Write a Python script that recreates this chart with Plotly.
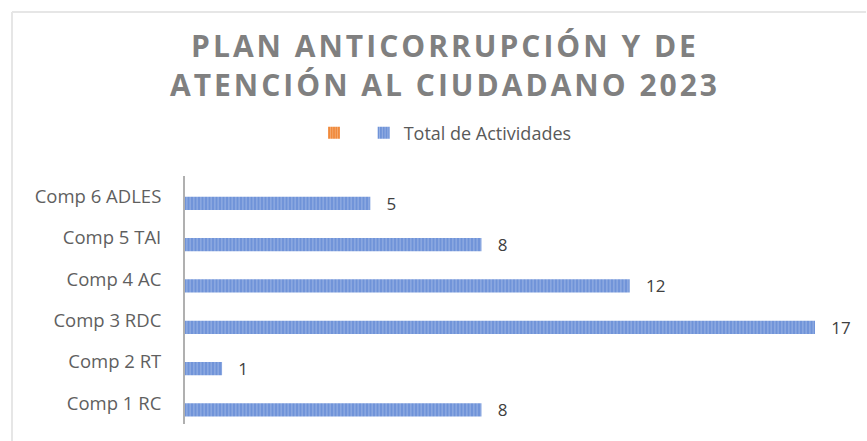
import plotly.graph_objects as go

categories = ["Comp 1 RC", "Comp 2 RT", "Comp 3 RDC", "Comp 4 AC", "Comp 5 TAI", "Comp 6 ADLES"]
total_actividades = [8, 1, 17, 12, 8, 5]
otra_serie = [0, 0, 0, 0, 0, 0]

title_text = "PLAN ANTICORRUPCIÓN Y DE<br>ATENCIÓN AL CIUDADANO 2023"

W, H = 867, 441
L, R, T, B = 185, 52, 176, 17
pw, ph = W - L - R, H - T - B

def px_x(px):
    return (px - L) / pw

def px_y(py):
    return (H - B - py) / ph

fig = go.Figure()
fig.add_trace(go.Bar(
    y=categories, x=total_actividades, orientation="h",
    name="Total de Actividades",
    marker=dict(color="#6f93d8", line=dict(width=0),
                pattern=dict(shape="|", fgcolor="#c9d6f2", size=3.5, solidity=0.3, fillmode="overlay")),
    text=["   " + str(v) for v in total_actividades],
    textposition="outside", cliponaxis=False, constraintext="none",
    textfont=dict(family="Open Sans", size=17, color="#404040"),
    legendrank=2,
))
fig.add_trace(go.Bar(
    y=categories, x=otra_serie, orientation="h",
    name=" ",
    marker=dict(color="#f08a3c", line=dict(width=0),
                pattern=dict(shape="|", fgcolor="#fbd3b5", size=3, solidity=0.3, fillmode="overlay")),
    legendrank=1, hoverinfo="skip",
))

fig.update_layout(
    width=W, height=H,
    margin=dict(l=L, r=R, t=T, b=B),
    paper_bgcolor="white", plot_bgcolor="white",
    barmode="group", bargap=0.36, bargroupgap=0,
    title=dict(text=title_text, x=445 / W, xanchor="center", xref="container",
               y=1 - 57 / H, yanchor="top", yref="container",
               font=dict(family="Open Sans", size=30, color="#808080", weight=700)),
    showlegend=True,
    legend=dict(orientation="h", x=px_x(314), xanchor="left", y=px_y(133), yanchor="middle",
                font=dict(family="Open Sans", size=18, color="#595959"),
                itemwidth=30, bgcolor="rgba(0,0,0,0)"),
    xaxis=dict(range=[0, 17], showgrid=False, zeroline=False, showticklabels=False,
               showline=False, ticks=""),
    yaxis=dict(categoryorder="array", categoryarray=categories,
               showgrid=False, zeroline=False, showline=True, linecolor="#b0b0b0", linewidth=2,
               ticks="", ticklabelstandoff=18,
               tickfont=dict(family="Open Sans", size=18.5, color="#5f5f5f")),
    shapes=[
        dict(type="line", xref="paper", yref="paper", x0=px_x(12), x1=px_x(866), y0=px_y(12), y1=px_y(12),
             line=dict(color="#e6e6e6", width=2)),
        dict(type="line", xref="paper", yref="paper", x0=px_x(12), x1=px_x(12), y0=px_y(12), y1=px_y(441),
             line=dict(color="#e6e6e6", width=2)),
    ],
)

post = """
document.body.style.margin = '0';
document.querySelectorAll('.gtitle').forEach(function(t){ t.style.letterSpacing = '3px'; });
"""

fig.write_html("out.html", post_script=post, config={"displayModeBar": False})
